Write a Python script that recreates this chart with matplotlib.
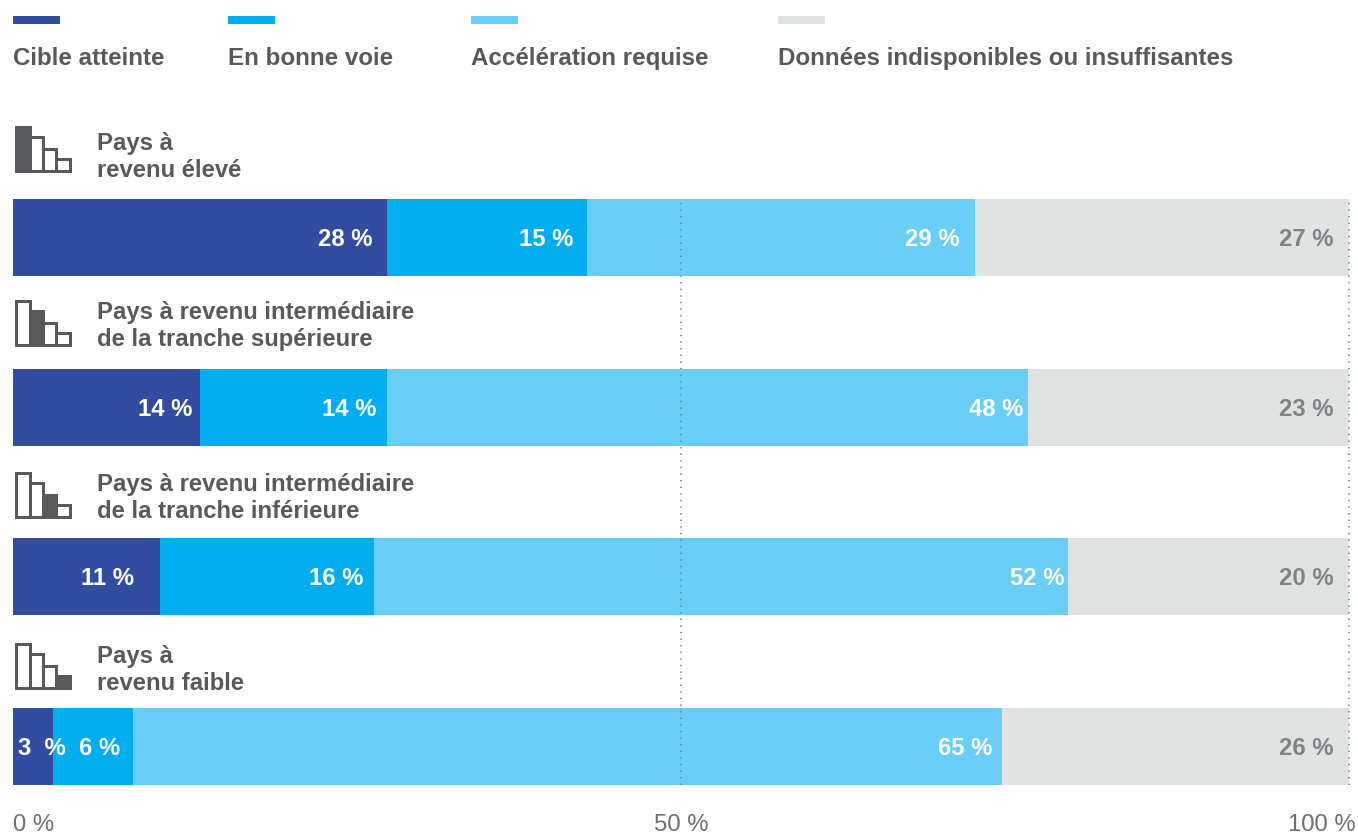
import matplotlib
matplotlib.use("Agg")
import matplotlib.pyplot as plt
from matplotlib.patches import Rectangle
from matplotlib.transforms import ScaledTranslation

W, H = 1358, 834

legend_labels = ["Cible atteinte", "En bonne voie", "Accélération requise",
                 "Données indisponibles ou insuffisantes"]
groups = ["Pays à\nrevenu élevé",
          "Pays à revenu intermédiaire\nde la tranche supérieure",
          "Pays à revenu intermédiaire\nde la tranche inférieure",
          "Pays à\nrevenu faible"]
reached = [28, 14, 11, 3]
on_track = [15, 14, 16, 6]
speed_up = [29, 48, 52, 65]
no_data = [28, 24, 21, 26]
printed_labels = [
    ["28 %", "15 %", "29 %", "27 %"],
    ["14 %", "14 %", "48 %", "23 %"],
    ["11 %", "16 %", "52 %", "20 %"],
    ["3  %", "6 %", "65 %", "26 %"],
]
tick_values = [0, 50, 100]
tick_labels = ["0 %", "50 %", "100 %"]

colors = ["#324da0", "#00aeef", "#69cef6", "#e1e3e3"]
label_colors = ["white", "white", "white", "#808285"]
dark = "#58595b"

# layout, in pixels of the output image
row_top = [199, 369, 538, 708]
bar_h = 77
icon_top = [125, 299, 471, 642]
icon_h = 47
title_y = [143, 312, 484, 656]
legend_x = [13, 228, 471, 778]
legend_w = 47
label_pad = [
    [15, 14, 15, 15],
    [8, 11, 5, 15],
    [26, 10, 4, 15],
    [-13, 13, 9, 15],
]

plt.rcParams["font.family"] = ["Liberation Sans", "DejaVu Sans"]

fig = plt.figure(figsize=(W / 100, H / 100), dpi=100)

# overlay in pixel coordinates for legend, icons and group titles
px = fig.add_axes([0, 0, 1, 1])
px.set_xlim(0, W)
px.set_ylim(H, 0)
px.axis("off")

ax = fig.add_axes([13 / W, 1 - 785 / H, (1349 - 13) / W, (785 - 198) / H])
ax.patch.set_alpha(0)
ax.set_xlim(0, 100)
ax.set_ylim(785, 198)
for s in ax.spines.values():
    s.set_visible(False)
ax.set_yticks([])

centers = [t + bar_h / 2 for t in row_top]
series = [reached, on_track, speed_up, no_data]
left = [0, 0, 0, 0]
for j, vals in enumerate(series):
    ax.barh(centers, vals, height=bar_h, left=left, color=colors[j], linewidth=0, zorder=1)
    for i, v in enumerate(vals):
        right = left[i] + v
        ax.annotate(printed_labels[i][j], (right, centers[i]),
                    xytext=(-label_pad[i][j] * 0.72, -1.2), textcoords="offset points",
                    ha="right", va="center", color=label_colors[j],
                    fontsize=17.2, fontweight="bold", zorder=4)
    left = [a + b for a, b in zip(left, vals)]

for x in tick_values[1:]:
    ax.axvline(x, color="#5f8796", linewidth=1.2, linestyle=(0, (0.8, 3.16)), zorder=3,
               clip_on=False)

ax.set_xticks(tick_values)
ax.set_xticklabels(tick_labels, fontsize=17.2, color="#6d6e71")
ax.tick_params(axis="x", length=0, pad=21)
tl = ax.get_xticklabels()
tl[0].set_ha("left")
tl[2].set_ha("right")
tl[2].set_transform(tl[2].get_transform() + ScaledTranslation(7 / 72 * 0.72, 0, fig.dpi_scale_trans))

# legend
for x, c, lab in zip(legend_x, colors, legend_labels):
    px.add_patch(Rectangle((x, 16), legend_w, 8, facecolor=c, linewidth=0))
    px.text(x, 58, lab, ha="left", va="center", fontsize=17.4, fontweight="bold", color=dark)

# income icons: four stepped bars, the group's own bar filled
icon_x = [15.5, 29.5, 43, 55.5, 69.5]
icon_steps = [0, 10, 22, 32]
for i, top in enumerate(icon_top):
    for k in range(4):
        y0 = top + icon_steps[k] + 1.5
        px.add_patch(Rectangle((icon_x[k], y0), icon_x[k + 1] - icon_x[k],
                               top + icon_h - 1.5 - y0,
                               facecolor=dark if k == i else "white",
                               edgecolor=dark, linewidth=2.16))
    line1, line2 = groups[i].split("\n")
    px.text(97, title_y[i], line1, ha="left", va="center", fontsize=17.2, fontweight="bold", color=dark)
    px.text(97, title_y[i] + 27, line2, ha="left", va="center", fontsize=17.2, fontweight="bold", color=dark)

fig.savefig("out.png", dpi=100)
